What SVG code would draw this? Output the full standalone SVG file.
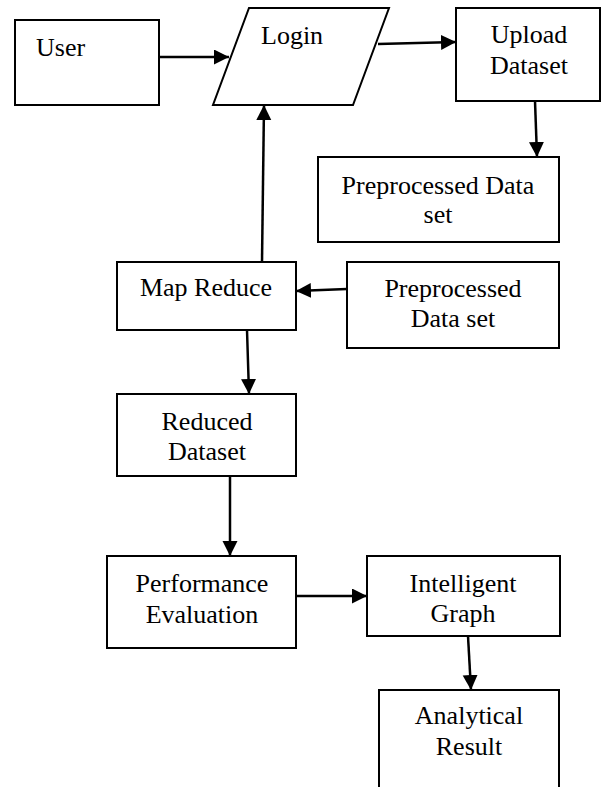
<svg xmlns="http://www.w3.org/2000/svg" width="601" height="787" viewBox="0 0 601 787">
<style>
.box{fill:#fff;stroke:#000;stroke-width:2}
.t{font-family:"Liberation Serif","Times New Roman",serif;font-size:26px;fill:#000}
.c{text-anchor:middle}
.edge{stroke:#000;stroke-width:2.5;fill:none;marker-end:url(#ah)}
</style>
<defs>
<marker id="ah" markerUnits="userSpaceOnUse" markerWidth="16" markerHeight="16" refX="15" refY="7.5" orient="auto">
<path d="M0,0 L15,7.5 L0,15 Z" fill="#000"/>
</marker>
</defs>
<rect width="601" height="787" fill="#fff"/>
<g id="user"><rect class="box" x="15" y="20" width="144" height="85"/><text class="t" x="36" y="56">User</text></g>
<g id="login"><polygon class="box" points="249,8 389,8 353,105 213,105"/><text class="t" x="261" y="44">Login</text></g>
<g id="upload"><rect class="box" x="456" y="8" width="144" height="93"/><text class="t c" x="529" y="43">Upload</text><text class="t c" x="529" y="74">Dataset</text></g>
<g id="prep1"><rect class="box" x="318" y="157" width="241" height="85"/><text class="t c" x="438" y="194">Preprocessed Data</text><text class="t c" x="438" y="223">set</text></g>
<g id="mapreduce"><rect class="box" x="117" y="262" width="179" height="68"/><text class="t c" x="206" y="296">Map Reduce</text></g>
<g id="prep2"><rect class="box" x="347" y="262" width="212" height="86"/><text class="t c" x="453" y="297">Preprocessed</text><text class="t c" x="453" y="327">Data set</text></g>
<g id="reduced"><rect class="box" x="117" y="394" width="179" height="82"/><text class="t c" x="207" y="430">Reduced</text><text class="t c" x="207" y="460">Dataset</text></g>
<g id="perf"><rect class="box" x="107" y="556" width="189" height="92"/><text class="t c" x="202" y="592">Performance</text><text class="t c" x="202" y="623">Evaluation</text></g>
<g id="intel"><rect class="box" x="367" y="556" width="193" height="80"/><text class="t c" x="463" y="592">Intelligent</text><text class="t c" x="463" y="622">Graph</text></g>
<g id="analytical"><path class="box" d="M379,790 L379,690 L559,690 L559,790"/><text class="t c" x="469" y="724">Analytical</text><text class="t c" x="469" y="755">Result</text></g>
<g id="connectors">
<line class="edge" x1="159" y1="57" x2="229" y2="57"/>
<line class="edge" x1="378" y1="44" x2="456" y2="42"/>
<line class="edge" x1="535" y1="101" x2="537" y2="157"/>
<line class="edge" x1="262" y1="262" x2="264" y2="105"/>
<line class="edge" x1="347" y1="289" x2="296" y2="291"/>
<line class="edge" x1="247" y1="330" x2="249" y2="394"/>
<line class="edge" x1="230" y1="476" x2="230" y2="556"/>
<line class="edge" x1="296" y1="596" x2="367" y2="596"/>
<line class="edge" x1="468" y1="636" x2="471" y2="690"/>
</g>
</svg>
